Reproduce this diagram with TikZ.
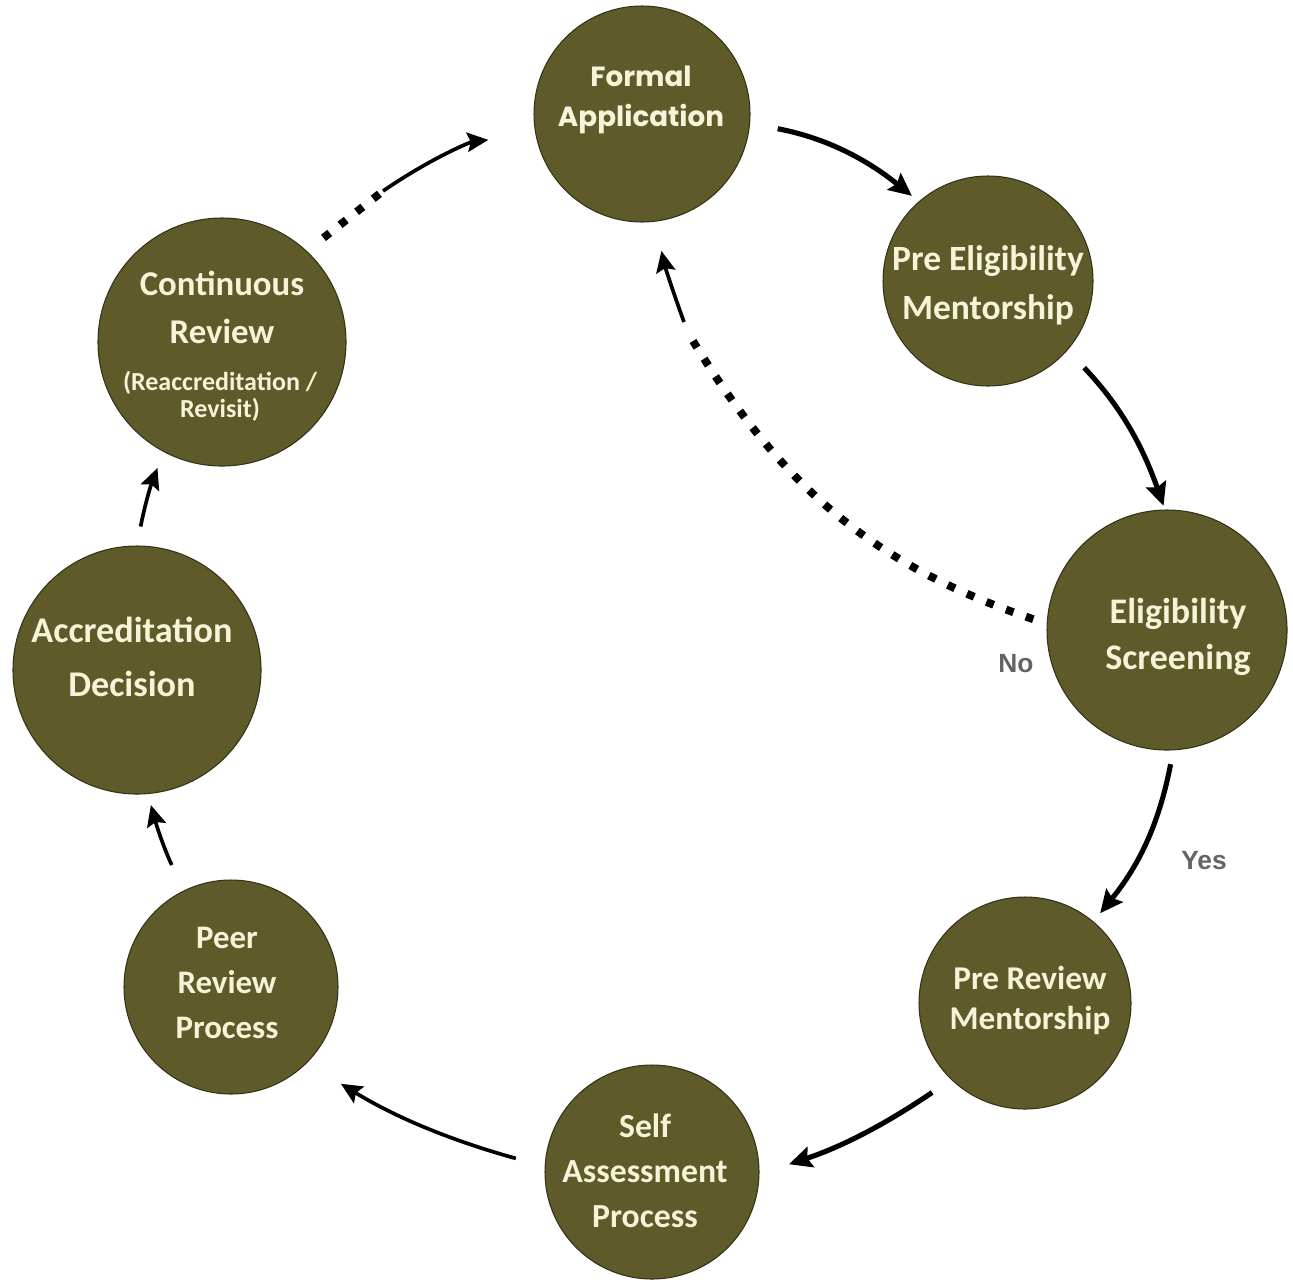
\documentclass[tikz,border=0pt]{standalone}
\usepackage{fontspec}
\setmainfont{Carlito}
\newfontfamily\gothicfont{Poppins}
\newfontfamily\labelfont{Liberation Sans}
\usetikzlibrary{arrows.meta,calc}
\definecolor{stagefill}{RGB}{94,90,42}
\definecolor{stageedge}{RGB}{52,50,22}
\definecolor{stagetext}{RGB}{246,244,216}
\definecolor{labelgray}{RGB}{100,100,100}
\begin{document}
\begin{tikzpicture}[x=0.02cm,y=-0.02cm,
  stage/.style={circle, fill=stagefill, draw=stageedge, line width=0.6pt, inner sep=0pt},
  stagetxt/.style={text=stagetext, align=center, inner sep=0pt},
  fs/.style n args={2}{font=\bfseries\fontsize{#1}{#2}\selectfont},
  flow/.style={line width=2.9pt, -{Stealth[length=13pt,width=12pt,inset=2pt]}},
  thinflow/.style={line width=2.1pt, -{Stealth[length=12pt,width=11pt,inset=2pt]}},
  dots/.style={line width=4.5pt, dash pattern=on 4.5pt off 7.5pt},
  yesno/.style={text=labelgray, font=\labelfont\bfseries\fontsize{15}{18}\selectfont, inner sep=0pt}]
\useasboundingbox (0,0) rectangle (1293,1285);

% circles
\node[stage, minimum size=216*0.02cm] (fa) at (642,114) {};
\node[stage, minimum size=210*0.02cm] (pe) at (988,281) {};
\node[stage, minimum size=240*0.02cm] (es) at (1167,630) {};
\node[stage, minimum size=212*0.02cm] (pr) at (1025,1003) {};
\node[stage, minimum size=214*0.02cm] (sa) at (652,1172) {};
\node[stage, minimum size=214*0.02cm] (pp) at (231,987) {};
\node[stage, minimum size=248*0.02cm] (ad) at (137,670) {};
\node[stage, minimum size=248*0.02cm] (cr) at (222,342) {};

% texts
\node[stagetxt, font=\gothicfont\bfseries\fontsize{15.8}{22.8}\selectfont] (fa-t) at (641,100) {Formal\\Application};
\node[stagetxt, fs={20.2}{27.9}] (pe-t) at (988,285) {Pre Eligibility\\Mentorship};
\node[stagetxt, fs={20.5}{26.2}] (es-t) at (1178,637) {Eligibility\\Screening};
\node[stagetxt, fs={18.9}{22.8}] (pr-t) at (1030,1000) {Pre Review\\Mentorship};
\node[stagetxt, fs={19.2}{25.6}] (sa-t) at (645,1171) {Self\\Assessment\\Process};
\node[stagetxt, fs={18.7}{25.6}] (pp-t) at (227,983) {Peer\\Review\\Process};
\node[stagetxt, fs={20.6}{30.7}] (ad-t) at (132,657) {Accreditation\\Decision};
\node[stagetxt, fs={19.8}{27.3}] (cr-t) at (222,307) {Continuous\\Review};
\node[stagetxt, fs={14.8}{15.4}] (cr-s) at (220,396) {(Reaccreditation /\\Revisit)};

% main cycle
\draw[flow, shorten <=16pt, shorten >=5pt] (fa.-5.5) to[bend left=14] (pe.131.5);
\draw[flow, shorten <=13.7pt, shorten >=2.3pt] (pe.-41.9) to[bend left=12] (es.91.8);
\draw[flow, shorten <=8pt, shorten >=6pt] (es.-87.9) to[bend left=14] (pr.50.8);
\draw[flow, shorten <=13pt, shorten >=17.6pt] (pr.226.5) to[bend left=8] (sa.-1.7);
\draw[thinflow, shorten <=17pt, shorten >=22.6pt] (sa.177) to[bend left=8] (pp.-45.3);
\draw[thinflow, shorten <=16pt, shorten >=6.5pt] (pp.116.6) to[bend left=5] (ad.-85.3);
\draw[thinflow, shorten <=11pt, shorten >=9.7pt] (ad.90) to[bend left=5] (cr.-118.8);

% continuous review back to formal application
\coordinate (m1) at (383,191);
\draw[dots, shorten <=12pt] (cr.47.8) -- (m1);
\draw[thinflow, shorten >=27pt] (m1) to[bend left=14] (fa.191.5);

% "No" loop back to formal application
\coordinate (m2a) at (693,341);
\coordinate (m2b) at (684,322);
\draw[dots, shorten <=8pt] (es.177.9) to[bend left=20] (m2a);
\draw[thinflow, shorten >=17pt] (m2b) to[bend left=4] (fa.-83.8);

% labels
\node[yesno] (no) at (1016,664) {No};
\node[yesno] (yes) at (1204,861) {Yes};
\end{tikzpicture}
\end{document}
